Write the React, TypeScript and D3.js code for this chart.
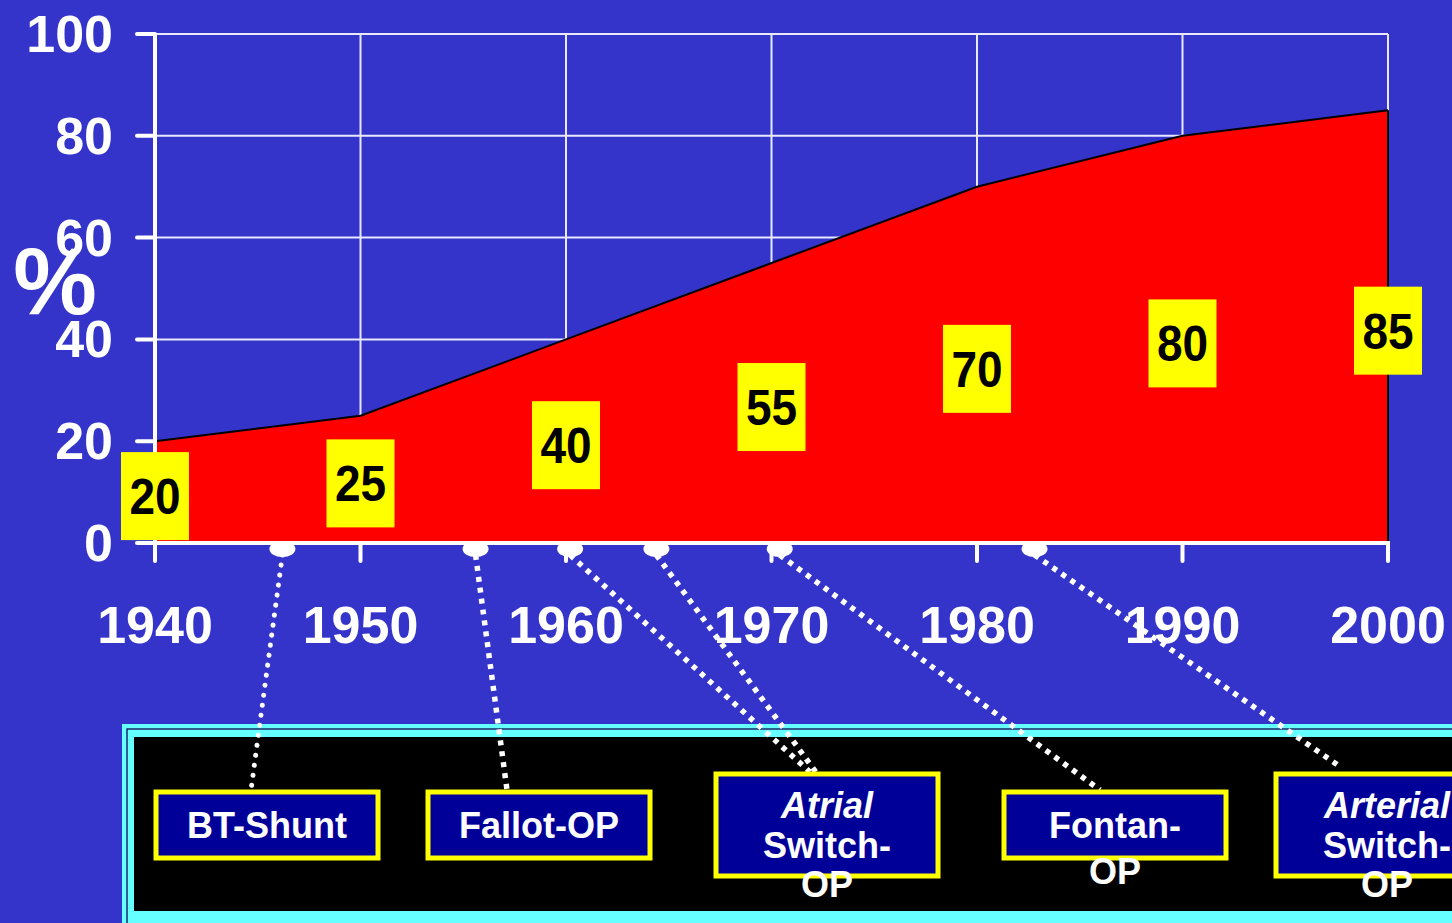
import React from 'react';
import * as d3 from 'd3';

// ---- data ----
const years = [1940, 1950, 1960, 1970, 1980, 1990, 2000];
const survival = [20, 25, 40, 55, 70, 80, 85];
const yTicks = [0, 20, 40, 60, 80, 100];
const milestoneYears = [1946.2, 1955.6, 1960.2, 1964.4, 1970.4, 1982.8];
const milestoneBox = [0, 1, 2, 2, 3, 4];
const boxLines = [
  ['BT-Shunt'],
  ['Fallot-OP'],
  ['Atrial', 'Switch-', 'OP'],
  ['Fontan-', 'OP'],
  ['Arterial', 'Switch-', 'OP'],
];
const boxItalicFirst = [false, false, true, false, true];

// ---- layout ----
const W = 1452;
const H = 923;
const M = { left: 155, right: 1388, top: 34, bottom: 543 };
const BOX_LAYOUT = [
  { x: 156, y: 792, w: 222, h: 66, baselines: [838] },
  { x: 428, y: 792, w: 222, h: 66, baselines: [838] },
  { x: 716, y: 774, w: 222, h: 102, baselines: [818, 858, 897] },
  { x: 1004, y: 792, w: 222, h: 66, baselines: [838, 884] },
  { x: 1276, y: 774, w: 222, h: 102, baselines: [818, 858, 897] },
];
const LINK_END: [number, number][] = [
  [251, 790], [507, 790], [810, 772], [818, 775], [1100, 790], [1342, 768],
];
const LINK_STYLE = ['round', 'square', 'diamond', 'diamond', 'diamond', 'diamond'];

const FONT = '"Liberation Sans", Arial, Helvetica, sans-serif';
const BG = '#3434CB';

export default function App() {
  const x = d3.scaleLinear().domain([1940, 2000]).range([M.left, M.right]);
  const y = d3.scaleLinear().domain([0, 100]).range([M.bottom, M.top]);
  const pts = years.map((yr, i) => ({ yr, v: survival[i] }));
  const area = d3.area<{ yr: number; v: number }>()
    .x(d => x(d.yr)).y0(y(0)).y1(d => y(d.v));
  const line = d3.line<{ yr: number; v: number }>()
    .x(d => x(d.yr)).y(d => y(d.v));

  return (
    <svg width={W} height={H} style={{ position: 'absolute', left: 0, top: 0, display: 'block' }}
      fontFamily={FONT}>
      <rect x={0} y={0} width={W} height={H} fill={BG} />
      {/* grid */}
      {yTicks.map(t => (
        <line key={'gy' + t} x1={M.left} x2={M.right} y1={y(t)} y2={y(t)} stroke="#E8E8FF" strokeWidth={2} />
      ))}
      {years.map(yr => (
        <line key={'gx' + yr} x1={x(yr)} x2={x(yr)} y1={M.top} y2={M.bottom} stroke="#E8E8FF" strokeWidth={2} />
      ))}
      {/* area */}
      <path d={area(pts) || ''} fill="#FF0000" />
      <path d={line(pts) || ''} fill="none" stroke="#000" strokeWidth={2} />
      <line x1={x(2000)} x2={x(2000)} y1={y(survival[survival.length - 1])} y2={y(0)} stroke="#000" strokeWidth={2} />
      {/* axes */}
      <line x1={M.left} x2={M.left} y1={M.top - 1} y2={M.bottom + 2} stroke="#fff" strokeWidth={4} />
      {yTicks.map(t => (
        <line key={'ty' + t} x1={137} x2={M.left} y1={y(t)} y2={y(t)} stroke="#fff" strokeWidth={4} strokeLinecap="round" />
      ))}
      <line x1={137} x2={M.right + 2} y1={y(0)} y2={y(0)} stroke="#fff" strokeWidth={4} />
      {years.map(yr => (
        <line key={'tx' + yr} x1={x(yr)} x2={x(yr)} y1={y(0)} y2={y(0) + 18} stroke="#fff" strokeWidth={4} strokeLinecap="round" />
      ))}
      {yTicks.map(t => (
        <text key={'ly' + t} x={113} y={y(t) + 18} textAnchor="end" fontSize={52} fontWeight="bold" fill="#fff">{t}</text>
      ))}
      {years.map(yr => (
        <text key={'lx' + yr} x={x(yr)} y={643} textAnchor="middle" fontSize={52} fontWeight="bold" fill="#fff">{yr}</text>
      ))}
      <text x={55} y={314} textAnchor="middle" fontSize={94} fontWeight="bold" fill="#fff">%</text>
      {/* value labels */}
      {pts.map(p => {
        const cx = x(p.yr);
        const cy = y(p.v / 2) + 4;
        return (
          <g key={'v' + p.yr}>
            <rect x={cx - 34} y={cy - 44} width={68} height={88} fill="#FFFF00" />
            <text transform={`translate(${cx},${cy + 18}) scale(0.92,1)`} textAnchor="middle" fontSize={50} fontWeight="bold" fill="#000">{p.v}</text>
          </g>
        );
      })}
      {/* legend frame */}
      <rect x={122} y={724} width={1400} height={210} fill="#66FFFF" />
      <rect x={127} y={729} width={1400} height={200} fill="none" stroke="#1a2a6a" strokeWidth={1.5} />
      <rect x={134} y={737} width={1400} height={174} fill="#000" />
      {/* milestone markers and links */}
      {milestoneYears.map((yr, i) => {
        const mx = x(yr);
        const [ex, ey] = LINK_END[i];
        const st = LINK_STYLE[i];
        const dash = st === 'round' ? '0.1 10' : '5 6';
        return (
          <g key={'m' + i}>
            <line x1={mx} y1={555} x2={ex} y2={ey} stroke="#fff"
              strokeWidth={st === 'round' ? 5 : 5.5}
              strokeLinecap={st === 'round' ? 'round' : 'butt'}
              strokeDasharray={dash} />
            <ellipse cx={mx} cy={549} rx={13} ry={8} fill="#fff" />
          </g>
        );
      })}
      {/* boxes */}
      {boxLines.map((lines, i) => {
        const b = BOX_LAYOUT[i];
        const cx = b.x + b.w / 2;
        return (
          <g key={'b' + i}>
            <rect x={b.x} y={b.y} width={b.w} height={b.h} fill="#000099" stroke="#FFFF00" strokeWidth={5} />
            {lines.map((t, j) => (
              <text key={j} x={cx} y={b.baselines[j]} textAnchor="middle" fontSize={36} fontWeight="bold"
                fontStyle={j === 0 && boxItalicFirst[i] ? 'italic' : 'normal'} fill="#fff">{t}</text>
            ))}
          </g>
        );
      })}
    </svg>
  );
}
